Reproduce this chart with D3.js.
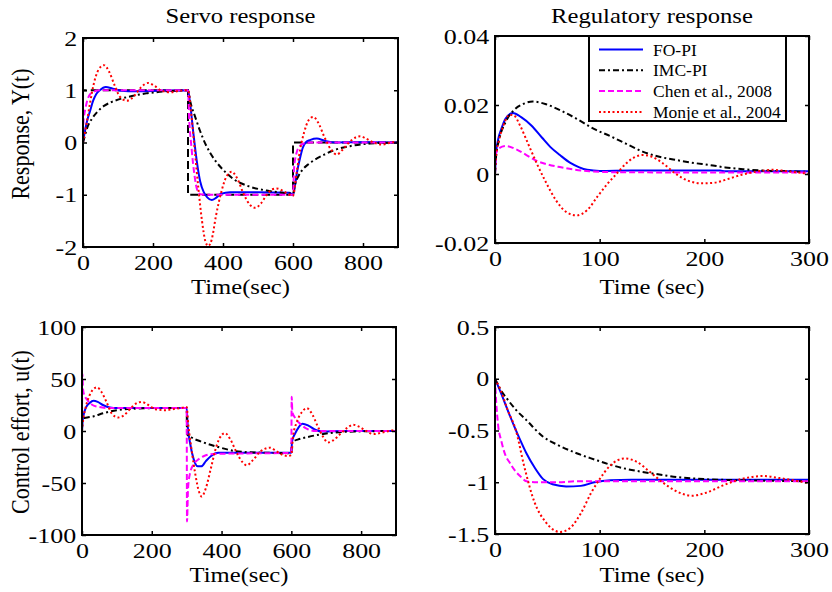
<!DOCTYPE html>
<html>
<head>
<meta charset="utf-8">
<script src="https://cdn.jsdelivr.net/npm/d3@7"></script>
<style>
body { margin: 0; background: #fff; }
svg text { font-family: "Liberation Serif", "Times New Roman", serif; fill: #000; }
</style>
</head>
<body>
<div id="chart"></div>
<script>
// ---- data: [time, value] pairs ----
const seriesNames = ["FO-PI", "IMC-PI", "Chen et al., 2008", "Monje et al., 2004"];

// Servo response Y(t)
const servoRef = [[0,0],[0,1],[300,1],[300,-1],[600,-1],[600,0],[900,0]];
const servoFO = [[0,0],[5,0.2],[12,0.42],[20,0.6],[29,0.8],[38,0.93],[48,1.0],[65,1.06],[85,1.03],[110,0.99],[150,0.98],[220,0.99],[300,1.0],
  [305,0.8],[315,0.2],[325,-0.35],[335,-0.75],[345,-0.95],[355,-1.05],[368,-1.1],[380,-1.06],[395,-0.98],[420,-0.95],[500,-0.95],[590,-0.96],[600,-1.0],
  [605,-0.85],[612,-0.55],[620,-0.3],[628,-0.1],[636,0.0],[650,0.05],[668,0.075],[690,0.035],[720,0.0],[800,0.005],[900,0.0]];
const servoIMC = [[0,0],[5,0.12],[12,0.28],[25,0.45],[40,0.58],[60,0.7],[80,0.77],[100,0.82],[140,0.89],[180,0.94],[220,0.97],[260,0.99],[300,1.0],
  [306,0.8],[311,0.67],[320,0.5],[334,0.23],[350,-0.03],[375,-0.32],[400,-0.52],[430,-0.7],[470,-0.83],[525,-0.92],[570,-0.96],[600,-0.98],
  [606,-0.8],[615,-0.65],[630,-0.5],[645,-0.41],[660,-0.34],[690,-0.23],[716,-0.15],[763,-0.07],[820,-0.02],[900,0]];
const servoChen = [[0,0],[1,0.35],[3,0.5],[7,0.65],[12,0.8],[20,0.92],[30,0.97],[45,1.0],[300,1.0],
  [303,0.5],[310,-0.1],[318,-0.6],[326,-0.9],[335,-0.99],[350,-1.0],[600,-1.0],
  [603,-0.5],[610,-0.2],[618,-0.08],[630,-0.02],[650,0],[900,0]];
const servoMonje = [[0,0],[10,0.35],[20,0.75],[30,1.1],[45,1.4],[60,1.48],[75,1.35],[90,1.1],[105,0.88],[125,0.8],[145,0.88],[165,1.05],[186,1.14],[205,1.08],[225,0.99],[250,0.96],[275,0.99],[300,1.0],
  [310,0.5],[320,-0.2],[330,-0.9],[340,-1.5],[350,-1.9],[358,-1.98],[368,-1.85],[380,-1.4],[395,-0.95],[410,-0.65],[425,-0.56],[440,-0.68],[460,-1.0],[478,-1.2],[492,-1.25],[508,-1.17],[525,-1.0],[540,-0.9],[553,-0.88],[570,-0.92],[590,-1.0],[600,-1.02],
  [610,-0.6],[620,-0.15],[632,0.2],[645,0.43],[658,0.49],[672,0.38],[690,0.1],[710,-0.15],[725,-0.23],[740,-0.15],[760,0.0],[780,0.1],[792,0.12],[810,0.07],[830,0.0],[855,-0.04],[880,0.0],[900,0.01]];

// Servo control effort u(t)
const ceFO = [[0,0],[2,10],[5,16],[12,23],[22,27],[33,29],[45,28],[60,25],[80,22.5],[100,22],[200,22],[300,22],
  [303,5],[310,-12],[320,-27],[332,-34],[342,-34],[355,-29],[370,-24],[390,-21],[420,-21],[500,-21],[600,-21],
  [602,-10],[610,-3],[620,3],[632,7],[650,5],[670,1],[690,-0.5],[750,0],[900,0]];
const ceIMC = [[0,0],[1,12],[15,13],[32,14],[60,17],[100,20],[150,21.5],[200,22],[300,22],
  [301,-3],[313,-6],[340,-10],[386,-15],[434,-19],[480,-20.5],[540,-21],[600,-21.5],
  [601,-11],[620,-8],[644,-6],[680,-3.5],[710,-2],[780,-0.5],[900,0]];
const ceChen = [[0,0],[1,55],[3,40],[6,35],[15,30],[30,25],[50,23],[80,22],[300,22],
  [301,-87],[304,-55],[310,-40],[320,-32],[335,-27],[350,-24],[380,-22],[600,-21],
  [601,33],[603,18],[610,13],[625,7],[645,2],[670,0],[900,0]];
const ceMonje = [[0,0],[3,10],[10,22],[20,33],[32,40],[43,42],[55,38],[70,28],[85,17],[104,13],[120,15],[140,22],[158,27],[171,28],[190,25],[210,21],[238,20],[260,21],[280,22],[300,23],
  [305,5],[315,-20],[325,-42],[335,-58],[343,-63],[355,-55],[370,-35],[385,-15],[400,-4],[410,-2],[425,-8],[445,-22],[460,-30],[472,-33],[490,-28],[510,-20],[525,-17],[539,-16],[555,-19],[575,-23],[590,-24],[600,-23],
  [605,-5],[615,8],[630,18],[644,22],[660,16],[675,5],[690,-5],[705,-11],[720,-9],[740,-3],[760,3],[777,6],[795,4],[815,0],[835,-3],[855,-2],[880,0],[900,1]];

// Regulatory response Y(t)
const regFO = [[0,0],[1,0.006],[3,0.01],[6,0.013],[10,0.016],[17,0.0177],[25,0.0165],[35,0.014],[45,0.0105],[53,0.0078],[62,0.0055],[72,0.0032],[80,0.002],[88,0.0012],[100,0.0009],[130,0.001],[215,0.001],[220,0.0008],[300,0.0008]];
const regIMC = [[0,0],[1,0.005],[4,0.01],[10,0.015],[18,0.0185],[27,0.0203],[36,0.021],[48,0.0203],[60,0.0188],[78,0.016],[95,0.013],[110,0.011],[125,0.0088],[141,0.0065],[157,0.005],[174,0.004],[190,0.0032],[205,0.0026],[220,0.0019],[237,0.0014],[255,0.001],[280,0.0008],[300,0.0006]];
const regChen = [[0,0],[1,0.006],[4,0.0075],[10,0.0081],[20,0.0072],[30,0.0055],[40,0.0038],[50,0.0028],[62,0.002],[75,0.0013],[90,0.0008],[120,0.0005],[300,0.0004]];
const regMonje = [[0,0],[1,0.005],[4,0.01],[8,0.014],[14,0.0172],[18,0.017],[24,0.014],[32,0.0085],[40,0.003],[48,-0.002],[58,-0.0075],[68,-0.011],[78,-0.012],[88,-0.0105],[98,-0.0065],[107,-0.003],[116,0.0],[125,0.003],[133,0.0048],[141,0.0055],[150,0.005],[160,0.0032],[173,0.0],[185,-0.002],[198,-0.0027],[210,-0.0025],[222,-0.0015],[235,-0.0003],[250,0.0007],[265,0.0012],[280,0.0008],[300,0.0]];

// Regulatory control effort u(t)
const rceFO = [[0,0],[5,-0.12],[12,-0.3],[18,-0.45],[24,-0.59],[30,-0.72],[38,-0.86],[46,-0.97],[55,-1.02],[68,-1.04],[82,-1.035],[95,-1.0],[110,-0.98],[130,-0.975],[300,-0.975]];
const rceIMC = [[0,0],[5,-0.1],[12,-0.2],[20,-0.3],[30,-0.4],[46,-0.56],[60,-0.64],[78,-0.72],[95,-0.78],[110,-0.83],[125,-0.87],[141,-0.9],[160,-0.93],[174,-0.95],[200,-0.97],[230,-0.98],[260,-0.985],[300,-0.99]];
const rceChen = [[0,0],[1,-0.2],[3,-0.45],[6,-0.6],[10,-0.74],[14,-0.81],[20,-0.9],[25,-0.95],[30,-0.99],[40,-1.0],[60,-1.0],[80,-0.99],[300,-0.99]];
const rceMonje = [[0,0],[5,-0.1],[12,-0.3],[20,-0.5],[28,-0.85],[38,-1.2],[48,-1.38],[62,-1.48],[72,-1.44],[82,-1.3],[92,-1.1],[100,-0.97],[110,-0.84],[124,-0.77],[135,-0.8],[148,-0.9],[160,-1.0],[172,-1.08],[188,-1.13],[202,-1.1],[218,-1.03],[235,-0.97],[256,-0.94],[272,-0.96],[290,-0.99],[300,-1.01]];

// tick values
const servoXTicks = [0, 200, 400, 600, 800];
const regXTicks = [0, 100, 200, 300];
const servoYTicks = [-2, -1, 0, 1, 2];
const ceYTicks = [-100, -50, 0, 50, 100];
const regYTicks = [-0.02, 0, 0.02, 0.04];
const rceYTicks = [-1.5, -1, -0.5, 0, 0.5];

// ---- styles ----
const lineStyle = {
  ref:   { color: "#000000", dash: "8,4" },
  fo:    { color: "#0000ff", dash: null },
  imc:   { color: "#000000", dash: "6,3,2,3" },
  chen:  { color: "#ff00ff", dash: "6,3" },
  monje: { color: "#ff0000", dash: "2,2.5" }
};
const textStretch = 1.12;
const tickStretch = 1.18;

const svg = d3.select("#chart").append("svg")
  .attr("width", 832)
  .attr("height", 592);

// text that is a bit wider than the font, like the stretched figure
function addText(parent, x, y, str, size, sx, rot, anchor) {
  return parent.append("text")
    .attr("transform", `translate(${x},${y}) scale(${sx},1) rotate(${rot || 0})`)
    .attr("text-anchor", anchor || "middle")
    .style("font-size", size + "px")
    .text(str);
}

function drawPanel(p) {
  const [x0, y0, x1, y1] = p.box;
  const w = x1 - x0, h = y1 - y0;
  const g = svg.append("g").attr("transform", `translate(${x0},${y0})`);

  const x = d3.scaleLinear().domain(p.xDomain).range([0, w]);
  const y = d3.scaleLinear().domain(p.yDomain).range([h, 0]);

  g.append("clipPath").attr("id", "clip-" + p.id)
    .append("rect").attr("width", w).attr("height", h);

  const plot = g.append("g").attr("clip-path", `url(#clip-${p.id})`);

  p.series.forEach(s => {
    const st = lineStyle[s.style];
    const line = d3.line()
      .x(d => x(d[0]))
      .y(d => y(d[1]))
      .curve(s.style === "ref" ? d3.curveLinear : d3.curveMonotoneX);
    plot.append("path")
      .datum(s.data)
      .attr("d", line)
      .attr("fill", "none")
      .attr("stroke", st.color)
      .attr("stroke-width", 2)
      .attr("stroke-dasharray", st.dash);
  });

  // MATLAB style: ticks pointing in, on all four sides
  const fmt = d => String(d);
  const bottom = g.append("g").attr("transform", `translate(0,${h})`)
    .call(d3.axisBottom(x).tickValues(p.xTicks).tickSizeInner(-4).tickSizeOuter(0).tickPadding(7).tickFormat(fmt));
  const left = g.append("g")
    .call(d3.axisLeft(y).tickValues(p.yTicks).tickSizeInner(-4).tickSizeOuter(0).tickPadding(5).tickFormat(fmt));
  g.append("g")
    .call(d3.axisTop(x).tickValues(p.xTicks).tickSizeInner(-4).tickSizeOuter(0).tickFormat(""));
  g.append("g").attr("transform", `translate(${w},0)`)
    .call(d3.axisRight(y).tickValues(p.yTicks).tickSizeInner(-4).tickSizeOuter(0).tickFormat(""));

  g.selectAll(".domain").remove();
  g.selectAll(".tick line").attr("stroke", "#000").attr("stroke-width", 1.5);
  [bottom, left].forEach(a => a.selectAll("text")
    .attr("fill", "#000")
    .style("font-size", "22px")
    .style("font-family", "'Liberation Serif', 'Times New Roman', serif")
    .attr("transform", `scale(${tickStretch},1)`));

  g.append("rect")
    .attr("width", w).attr("height", h)
    .attr("fill", "none")
    .attr("stroke", "#000")
    .attr("stroke-width", 2);

  if (p.title) addText(svg, (x0 + x1) / 2, 23, p.title, 22, textStretch, 0);
  addText(svg, (x0 + x1) / 2, p.xLabelY, p.xLabel, 22, textStretch, 0);
  if (p.yLabel) addText(svg, 29, p.yLabelY, p.yLabel, 22, textStretch, -90);

  if (p.legend) {
    const lg = svg.append("g").attr("transform", "translate(589,36)");
    lg.append("rect")
      .attr("width", 197).attr("height", 85)
      .attr("fill", "#fff")
      .attr("stroke", "#000")
      .attr("stroke-width", 2);
    p.series.forEach((s, i) => {
      const st = lineStyle[s.style];
      const ry = 13.5 + i * 20.8;
      lg.append("line")
        .attr("x1", 10).attr("x2", 54)
        .attr("y1", ry).attr("y2", ry)
        .attr("stroke", st.color)
        .attr("stroke-width", 2)
        .attr("stroke-dasharray", st.dash);
      lg.append("text")
        .attr("x", 64).attr("y", ry)
        .attr("dy", "0.35em")
        .style("font-size", "17.5px")
        .text(s.name);
    });
  }
}

const panels = [
  { id: "servo", box: [83, 38, 398, 247], xDomain: [0, 900], yDomain: [-2, 2],
    xTicks: servoXTicks, yTicks: servoYTicks, title: "Servo response",
    xLabel: "Time(sec)", xLabelY: 294, yLabel: "Response, Y(t)", yLabelY: 134,
    series: [
      { style: "ref", data: servoRef },
      { style: "fo", data: servoFO },
      { style: "imc", data: servoIMC },
      { style: "chen", data: servoChen },
      { style: "monje", data: servoMonje }
    ] },
  { id: "reg", box: [495, 36, 809, 243], xDomain: [0, 300], yDomain: [-0.02, 0.04],
    xTicks: regXTicks, yTicks: regYTicks, title: "Regulatory response",
    xLabel: "Time (sec)", xLabelY: 294, legend: true,
    series: [
      { style: "fo", data: regFO, name: seriesNames[0] },
      { style: "imc", data: regIMC, name: seriesNames[1] },
      { style: "chen", data: regChen, name: seriesNames[2] },
      { style: "monje", data: regMonje, name: seriesNames[3] }
    ] },
  { id: "ce", box: [82, 327, 396, 535], xDomain: [0, 900], yDomain: [-100, 100],
    xTicks: servoXTicks, yTicks: ceYTicks,
    xLabel: "Time(sec)", xLabelY: 582, yLabel: "Control effort, u(t)", yLabelY: 432,
    series: [
      { style: "fo", data: ceFO },
      { style: "imc", data: ceIMC },
      { style: "chen", data: ceChen },
      { style: "monje", data: ceMonje }
    ] },
  { id: "rce", box: [495, 327, 809, 534], xDomain: [0, 300], yDomain: [-1.5, 0.5],
    xTicks: regXTicks, yTicks: rceYTicks,
    xLabel: "Time (sec)", xLabelY: 582,
    series: [
      { style: "fo", data: rceFO },
      { style: "imc", data: rceIMC },
      { style: "chen", data: rceChen },
      { style: "monje", data: rceMonje }
    ] }
];

panels.forEach(drawPanel);
</script>
</body>
</html>
